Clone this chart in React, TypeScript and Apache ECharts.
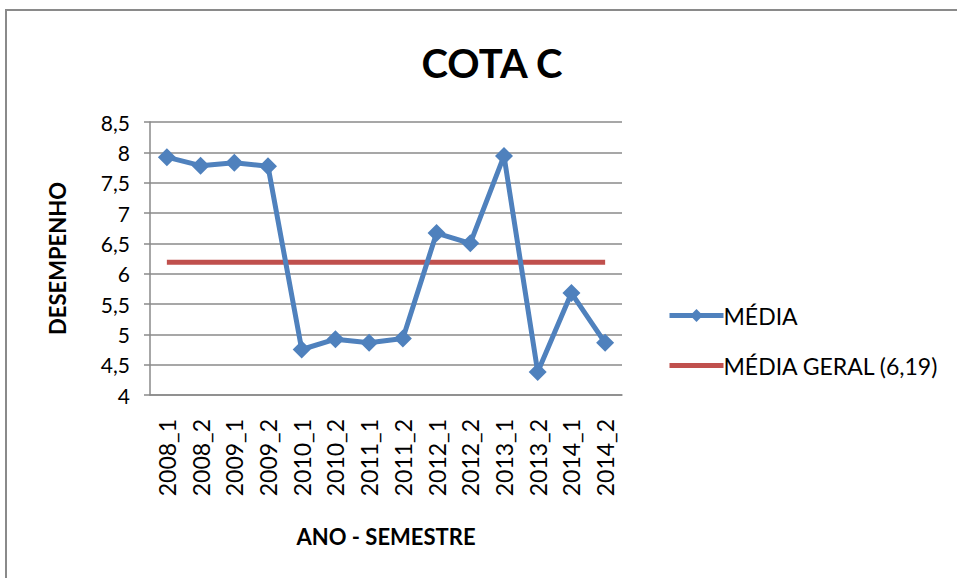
import React, { useEffect, useRef } from "react";
import * as echarts from "echarts";

const categories = ["2008_1", "2008_2", "2009_1", "2009_2", "2010_1", "2010_2", "2011_1", "2011_2", "2012_1", "2012_2", "2013_1", "2013_2", "2014_1", "2014_2"];
const media = [7.92, 7.78, 7.83, 7.77, 4.75, 4.92, 4.86, 4.93, 6.67, 6.5, 7.94, 4.38, 5.68, 4.86];
const mediaGeralValue = 6.19;
const mediaGeral = categories.map(() => mediaGeralValue);

const FONT = "Lato, 'Open Sans', 'DejaVu Sans', sans-serif";
const BAR_ICON = "path://M0 0 L0.01 0 L0.01 0.01 Z M0 5.5 L54 5.5 L54 10.5 L0 10.5 Z M53.99 15.99 L54 15.99 L54 16 Z";

export default function App() {
  const ref = useRef<HTMLDivElement>(null);
  useEffect(() => {
    document.body.style.margin = "0";
    const chart = echarts.init(ref.current!, undefined, { renderer: "svg" });
    chart.setOption({
      animation: false,
      backgroundColor: "#ffffff",
      textStyle: { fontFamily: FONT },
      title: {
        text: "COTA C",
        left: 487,
        top: 38,
        textAlign: "center",
        textStyle: { fontFamily: FONT, fontSize: 40, fontWeight: "bold", color: "#000" },
      },
      graphic: [
        {
          type: "rect",
          shape: { x: 6, y: 10, width: 1000, height: 700 },
          style: { fill: "none", stroke: "#8a8a8a", lineWidth: 2 },
          silent: true,
        },
      ],
      legend: {
        orient: "vertical",
        left: 662,
        top: 299,
        itemWidth: 54,
        itemHeight: 16,
        itemGap: 27,
        lineStyle: { width: 5 },
        textStyle: { fontFamily: FONT, fontSize: 23, color: "#000", padding: [0, 0, 0, -5] },
        data: [
          { name: "MÉDIA" },
          { name: "MÉDIA GERAL (6,19)", icon: BAR_ICON, itemStyle: { color: "#C0504D" } },
        ],
      },
      grid: { left: 150, right: 335, top: 122, bottom: 183 },
      xAxis: {
        type: "category",
        data: categories,
        boundaryGap: true,
        name: "ANO - SEMESTRE",
        nameLocation: "middle",
        nameGap: 130,
        nameTextStyle: { fontFamily: FONT, fontSize: 22, fontWeight: "bold", color: "#000" },
        axisLine: { show: true, lineStyle: { color: "#8a8a8a", width: 1.5 } },
        axisTick: { show: false },
        axisLabel: { rotate: 90, margin: 24, fontFamily: FONT, fontSize: 23, color: "#000", interval: 0 },
      },
      yAxis: {
        type: "value",
        min: 4,
        max: 8.5,
        interval: 0.5,
        name: "DESEMPENHO",
        nameLocation: "middle",
        nameGap: 82,
        nameRotate: 90,
        nameTextStyle: { fontFamily: FONT, fontSize: 22, fontWeight: "bold", color: "#000" },
        axisLine: { show: true, lineStyle: { color: "#8a8a8a", width: 1.5 } },
        axisTick: { show: true, length: 6, lineStyle: { color: "#8a8a8a", width: 1.5 } },
        axisLabel: {
          margin: 20,
          fontFamily: FONT,
          fontSize: 21,
          color: "#000",
          formatter: (v: number) => String(v).replace(".", ","),
        },
        splitLine: { show: true, lineStyle: { color: "#8a8a8a", width: 1.5 } },
      },
      series: [
        {
          name: "MÉDIA",
          type: "line",
          data: media,
          symbol: "diamond",
          symbolSize: 18,
          lineStyle: { color: "#4F81BD", width: 5 },
          itemStyle: { color: "#4F81BD" },
          z: 3,
        },
        {
          name: "MÉDIA GERAL (6,19)",
          type: "line",
          data: mediaGeral,
          symbol: "none",
          lineStyle: { color: "#C0504D", width: 5 },
          itemStyle: { color: "#C0504D" },
          z: 2,
        },
      ],
    });
    return () => chart.dispose();
  }, []);
  return <div ref={ref} style={{ width: 957, height: 578 }} />;
}
